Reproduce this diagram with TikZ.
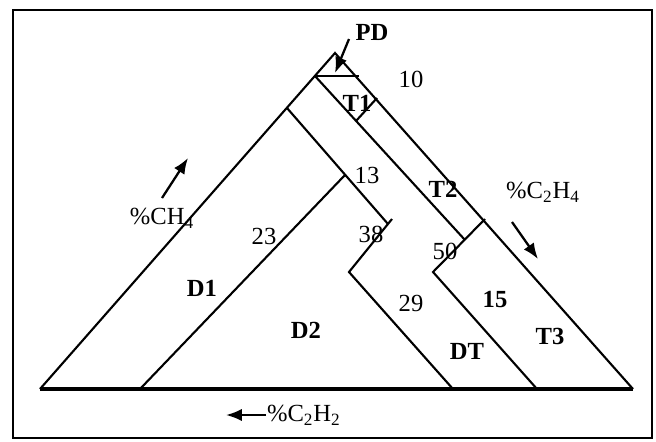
\documentclass[tikz,border=0pt]{standalone}
\usepackage{fontspec}
\setmainfont{Liberation Serif}
\usepackage{tikz}
\usetikzlibrary{calc, positioning, arrows.meta}

\tikzset{
  zone/.style={font=\fontsize{14}{16}\selectfont\bfseries},
  muiten/.style={->, line width=1.3pt}
}

\begin{document}
\begin{tikzpicture}[>={Latex[length=9pt,width=7pt]}, x=0.02cm, y=-0.02cm, line width=1.2pt,
    every node/.style={inner sep=0pt, font=\fontsize{14}{16}\selectfont}]
    \useasboundingbox (0,0) rectangle (656,441);
    % 1. Khung
    \draw[line width=1.4pt] (13,10) rectangle (652,438);

    % 2. Tam giac
    \coordinate (top) at (335,53);
    \coordinate (L) at (40,389);
    \coordinate (R) at (633,389);
    \draw (L) -- (top) -- (R);
    \draw[line width=2pt] (L) -- (R);

    % 3. Cac duong chia vung
    \coordinate (pdL) at (315,76);
    \coordinate (pdR) at (359,76);
    \coordinate (jA) at (465,240);
    \coordinate (t1a) at (377,98);
    \coordinate (t1b) at (356,121);
    \coordinate (j50a) at (485,219);
    \coordinate (j50b) at (433,272);
    \coordinate (b4) at (537,389);
    \coordinate (j23) at (287,108);
    \coordinate (j13) at (345,175);
    \coordinate (j38) at (388,224);
    \coordinate (j38t) at (392,219);
    \coordinate (j38b) at (349,272);
    \coordinate (b2) at (140,389);
    \coordinate (b3) at (453,389);
    \draw (pdL) -- (pdR);
    \draw (pdL) -- (jA);
    \draw (t1a) -- (t1b);
    \draw (j50a) -- (j50b) -- (b4);
    \draw (j23) -- (j38);
    \draw (j13) -- (b2);
    \draw (j38t) -- (j38b) -- (b3);

    % 4. Ten vung va so lieu
    \node[zone] (pd) at (372,32) {PD};
    \node (n10) at (411,79) {10};
    \node[zone] (t1) at (357,103) {T1};
    \node (n13) at (367,175) {13};
    \node (n38) at (371,234) {38};
    \node (n23) at (264,236) {23};
    \node[zone] (t2) at (443,189) {T2};
    \node (n50) at (445,251) {50};
    \node[zone] (d1) at (202,288) {D1};
    \node[zone] (d2) at (306,330) {D2};
    \node (n29) at (411,303) {29};
    \node[zone] (n15) at (495,299) {15};
    \node[zone] (t3) at (550,336) {T3};
    \node[zone] (dt) at (467,351) {DT};

    % 5. Truc va mui ten
    \node (ch4) at (162,218) {\%CH\textsubscript{4}};
    \node (c2h4) at (543,192) {\%C\textsubscript{2}H\textsubscript{4}};
    \node[anchor=west] (c2h2) at (266,415) {\%C\textsubscript{2}H\textsubscript{2}};
    \coordinate (pdtail) at (349,39);
    \coordinate (pdtip) at (335,73);
    \coordinate (ch4a) at (162,198);
    \coordinate (ch4b) at (188,158);
    \coordinate (c2h4a) at (512,222);
    \coordinate (c2h4b) at (538,259);
    \coordinate (c2h2tip) at (226,415);
    \draw[muiten] (pdtail) -- (pdtip);
    \draw[muiten] (ch4a) -- (ch4b);
    \draw[muiten] (c2h4a) -- (c2h4b);
    \draw[muiten] (c2h2.west) -- (c2h2tip);
\end{tikzpicture}
\end{document}
